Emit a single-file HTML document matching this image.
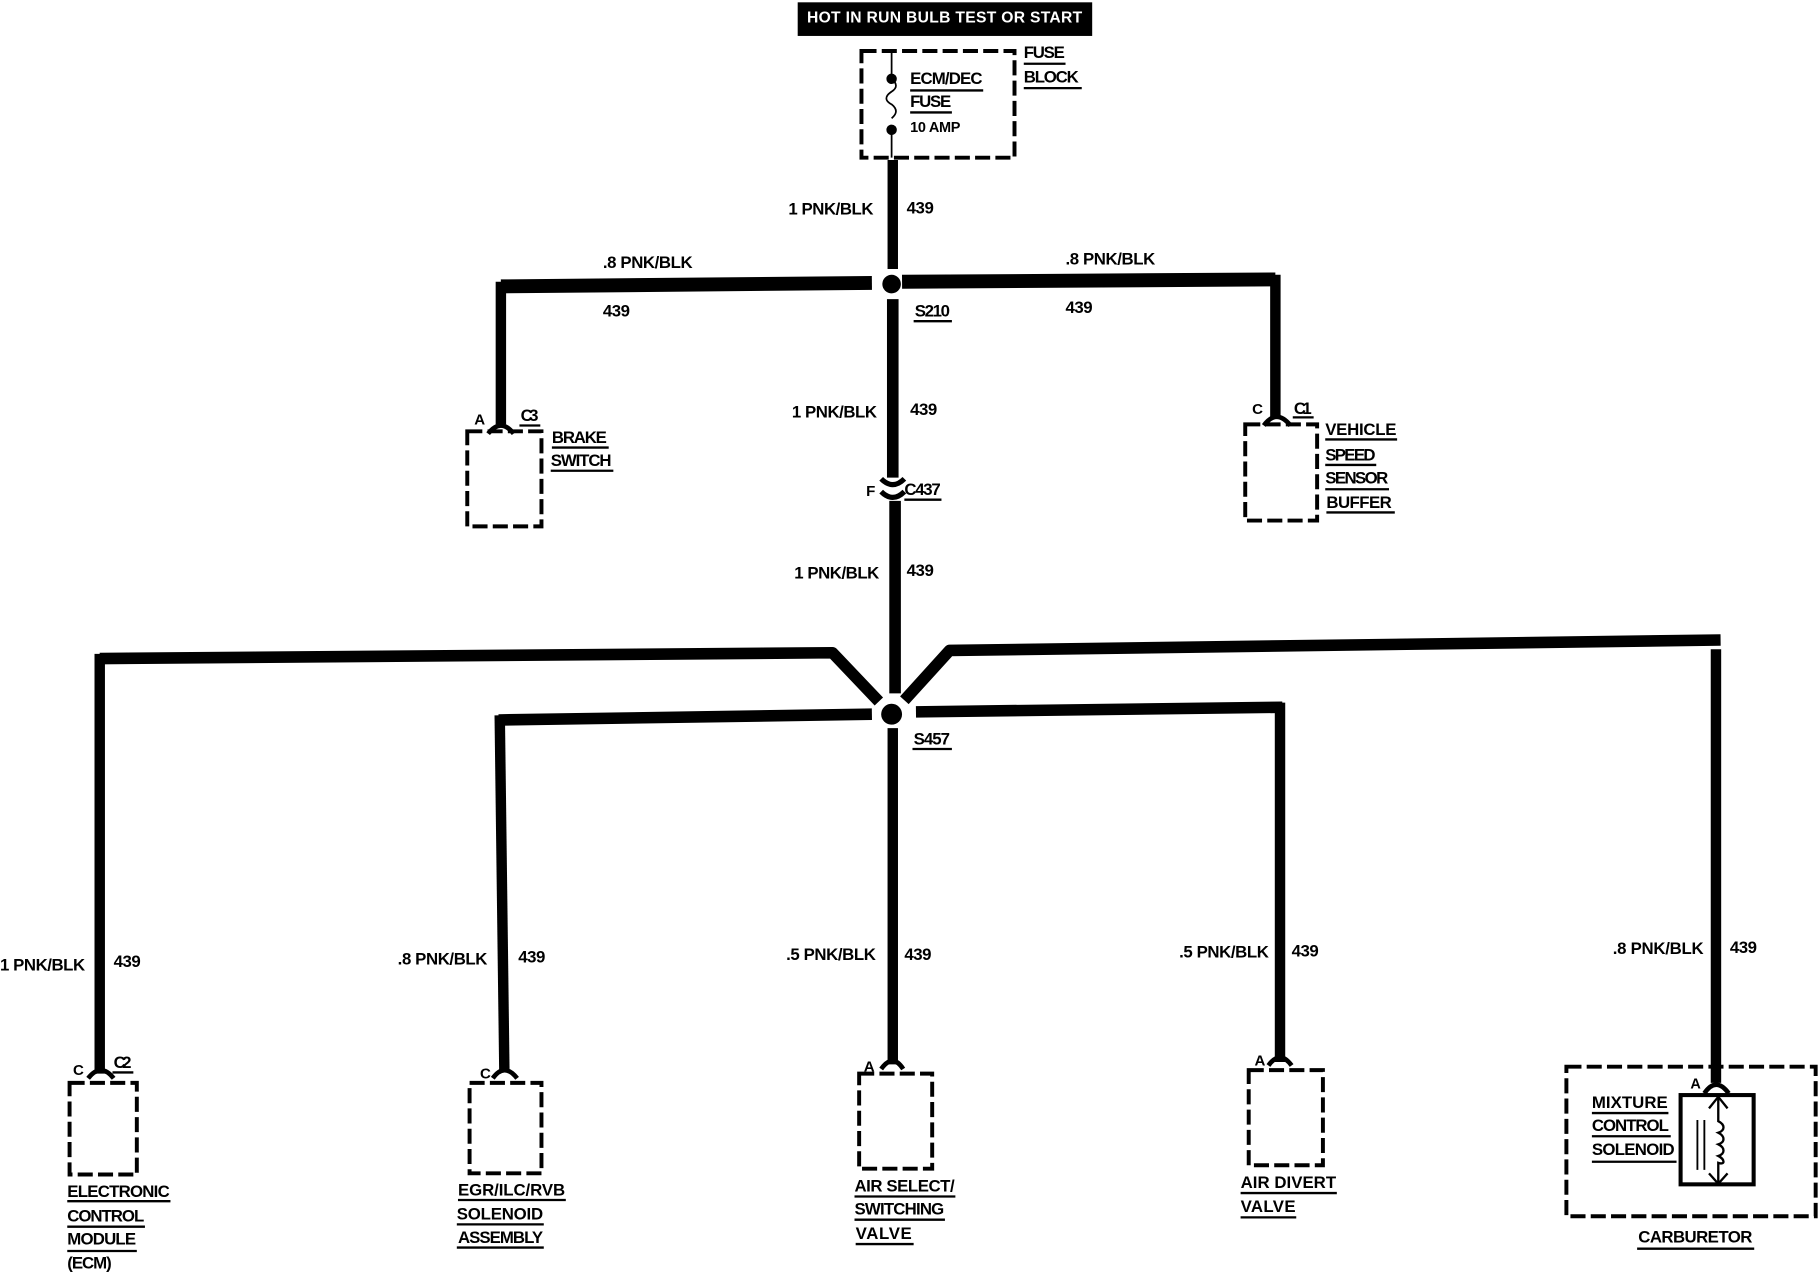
<!DOCTYPE html>
<html><head><meta charset="utf-8"><style>
html,body{margin:0;padding:0;background:#fff}
svg{display:block}
text{font-family:"Liberation Sans",sans-serif;font-weight:bold;font-size:14.5px;fill:#000;letter-spacing:.6px}
.w{fill:none;stroke:#000;stroke-width:10;stroke-linejoin:round}
.t{fill:none;stroke:#000;stroke-width:12;stroke-linejoin:round}
.n{fill:none;stroke:#000;stroke-width:9;stroke-linejoin:round}
.d{fill:none;stroke:#000;stroke-width:3.4;stroke-dasharray:13 4.5}
.u{stroke:#000;stroke-width:2;fill:none}
.c{fill:none;stroke:#000;stroke-width:4}
</style></head><body>
<svg width="1818" height="1280" viewBox="0 0 1568 1104" xmlns="http://www.w3.org/2000/svg">
<rect width="1568" height="1104" fill="#fff"/>
<rect x="688" y="2" width="254" height="29" fill="#000"/>
<text x="696" y="19.5" textLength="238" style="fill:#fff;font-size:13.5px">HOT IN RUN BULB TEST OR START</text>

<rect class="d" x="743" y="44" width="132" height="92"/>
<path d="M769 45V64M769 112V136" stroke="#000" stroke-width="1.5" fill="none"/>
<path d="M769 68c5 4 5 8 0 11c-6 4-6 8 0 11c5 4 5 8 0 12" stroke="#000" stroke-width="1.5" fill="none"/>
<circle cx="769" cy="68" r="4.5"/><circle cx="769" cy="112" r="4.5"/>
<text x="785" y="72.5" textLength="63">ECM/DEC</text><path class="u" d="M785 78H848"/>
<text x="785" y="92.5" textLength="36">FUSE</text><path class="u" d="M785 97H821"/>
<text x="785" y="114" textLength="44" style="font-size:12.5px">10 AMP</text>
<text x="883" y="50" textLength="36">FUSE</text><path class="u" d="M883 55H919"/>
<text x="883" y="71" textLength="48">BLOCK</text><path class="u" d="M883 76H933"/>

<path class="n" d="M770 138V232"/>
<text x="680" y="185" textLength="74">1 PNK/BLK</text><text x="782" y="184" textLength="24">439</text>
<path class="t" d="M752 244L432 247"/><path class="n" d="M432 243V366"/>
<path class="t" d="M778 243L1100 241"/><path class="n" d="M1100 237V360"/>
<circle cx="769" cy="245" r="8"/>
<text x="520" y="231" textLength="78">.8 PNK/BLK</text><text x="520" y="273" textLength="24">439</text>
<text x="919" y="228" textLength="78">.8 PNK/BLK</text><text x="919" y="270" textLength="24">439</text>
<text x="789" y="273" textLength="31">S210</text><path class="u" d="M788 277H821"/>
<path class="w" d="M770 258V412"/>
<text x="683" y="360" textLength="74">1 PNK/BLK</text><text x="785" y="358" textLength="24">439</text>

<path d="M760 413Q770 423 780 413M760 424Q770 434 780 424" fill="none" stroke="#000" stroke-width="4.5"/>
<text x="747" y="428" style="font-size:13px">F</text>
<text x="780" y="427" textLength="32">C437</text><path class="u" d="M780 431H812"/>
<path class="w" d="M772 432V598"/>
<text x="685" y="499" textLength="74">1 PNK/BLK</text><text x="782" y="497" textLength="24">439</text>

<path class="w" d="M758 605L718 563L86 568"/><path class="n" d="M86 564V926"/>
<path class="w" d="M780 604L819 561L1484 552"/>
<path class="n" d="M1480 560V934"/>
<path class="w" d="M752 616L430 621"/><path class="n" d="M431 617L435 924"/>
<path class="w" d="M790 614L1106 610"/><path class="n" d="M1104 606V916"/>
<path class="n" d="M770 628V918"/>
<circle cx="769" cy="616" r="9"/>
<text x="788" y="642" textLength="32">S457</text><path class="u" d="M787 646H821"/>

<text x="0" y="837" textLength="74">1 PNK/BLK</text><text x="98" y="834" textLength="24">439</text>
<text x="343" y="832" textLength="78">.8 PNK/BLK</text><text x="447" y="830" textLength="24">439</text>
<text x="678" y="828" textLength="78">.5 PNK/BLK</text><text x="780" y="828" textLength="24">439</text>
<text x="1017" y="826" textLength="78">.5 PNK/BLK</text><text x="1114" y="825" textLength="24">439</text>
<text x="1391" y="823" textLength="79">.8 PNK/BLK</text><text x="1492" y="822" textLength="24">439</text>

<!-- Brake -->
<path class="c" d="M421 374Q432 360 443 374"/>
<rect class="d" x="403" y="372" width="64" height="82"/>
<text x="409" y="366" style="font-size:13px">A</text>
<text x="449" y="363" textLength="16">C3</text><path class="u" d="M448 367H466"/>
<text x="476" y="382" textLength="48">BRAKE</text><path class="u" d="M476 386H525"/>
<text x="475" y="402" textLength="53">SWITCH</text><path class="u" d="M475 406H529"/>

<!-- VSS -->
<path class="c" d="M1090 367Q1101 352 1113 367"/>
<rect class="d" x="1074" y="366" width="62" height="83"/>
<text x="1080" y="357" style="font-size:13px">C</text>
<text x="1116" y="357" textLength="16">C1</text><path class="u" d="M1115 360H1133"/>
<text x="1143" y="375" textLength="62">VEHICLE</text><path class="u" d="M1143 379H1205"/>
<text x="1143" y="397" textLength="44">SPEED</text><path class="u" d="M1143 401H1187"/>
<text x="1143" y="417" textLength="55">SENSOR</text><path class="u" d="M1143 422H1198"/>
<text x="1144" y="438" textLength="57">BUFFER</text><path class="u" d="M1144 442H1203"/>

<!-- ECM -->
<path class="c" d="M76 930Q87 916 98 930"/>
<rect class="d" x="60" y="934" width="58" height="79"/>
<text x="63" y="927" style="font-size:13px">C</text>
<text x="98" y="921" textLength="16">C2</text><path class="u" d="M97 925H115"/>
<text x="58" y="1032.5" textLength="89">ELECTRONIC</text><path class="u" d="M58 1036H147"/>
<text x="58" y="1053.5" textLength="67">CONTROL</text><path class="u" d="M58 1058H125"/>
<text x="58" y="1073.5" textLength="60">MODULE</text><path class="u" d="M58 1079H118"/>
<text x="58" y="1094" textLength="39">(ECM)</text>

<!-- EGR -->
<path class="c" d="M425 930Q435 916 446 930"/>
<rect class="d" x="405" y="934" width="62" height="78"/>
<text x="414" y="930" style="font-size:13px">C</text>
<text x="395" y="1031" textLength="93">EGR/ILC/RVB</text><path class="u" d="M395 1035H488"/>
<text x="394" y="1052" textLength="75">SOLENOID</text><path class="u" d="M394 1056H469"/>
<text x="395" y="1072" textLength="74">ASSEMBLY</text><path class="u" d="M394 1076H469"/>

<!-- Air select -->
<path class="c" d="M760 922Q770 908 779 922"/>
<rect class="d" x="741" y="926" width="63" height="82"/>
<text x="745" y="924" style="font-size:13px">A</text>
<text x="737" y="1027.5" textLength="87">AIR SELECT/</text><path class="u" d="M737 1032H824"/>
<text x="737" y="1047.5" textLength="78">SWITCHING</text><path class="u" d="M737 1052H815"/>
<text x="738" y="1068.5" textLength="49">VALVE</text><path class="u" d="M738 1073H788"/>

<!-- Air divert -->
<path class="c" d="M1094 919Q1104 905 1114 919"/>
<rect class="d" x="1077" y="923" width="64" height="82"/>
<text x="1082" y="919" style="font-size:13px">A</text>
<text x="1070" y="1024.5" textLength="83">AIR DIVERT</text><path class="u" d="M1070 1029H1153"/>
<text x="1070" y="1045.5" textLength="48">VALVE</text><path class="u" d="M1070 1050H1118"/>

<!-- Carburetor -->
<rect class="d" x="1351" y="920" width="215" height="129"/>
<rect x="1449.5" y="944.5" width="63" height="77" fill="none" stroke="#000" stroke-width="3.5"/>
<path class="c" d="M1470 943Q1480 928 1491 943"/>
<text x="1458" y="939" style="font-size:12.5px">A</text>
<path d="M1482 945V967c6 3 6 8 0 10c6 3 6 8 0 10c6 3 6 8 0 10c6 3 6 8 0 6V1022" fill="none" stroke="#000" stroke-width="2"/>
<path d="M1474 956L1482 946L1490 956M1474 1012L1482 1021L1490 1012" fill="none" stroke="#000" stroke-width="2"/>
<path d="M1464 966V1009M1470 966V1009" stroke="#000" stroke-width="1.6" fill="none"/>
<text x="1373" y="955.5" textLength="66">MIXTURE</text><path class="u" d="M1373 960H1439"/>
<text x="1373" y="975.5" textLength="67">CONTROL</text><path class="u" d="M1373 980H1441"/>
<text x="1373" y="996" textLength="72">SOLENOID</text><path class="u" d="M1373 1002H1446"/>
<text x="1413" y="1071.5" textLength="99">CARBURETOR</text><path class="u" d="M1412 1077H1513"/>
</svg>
</body></html>
